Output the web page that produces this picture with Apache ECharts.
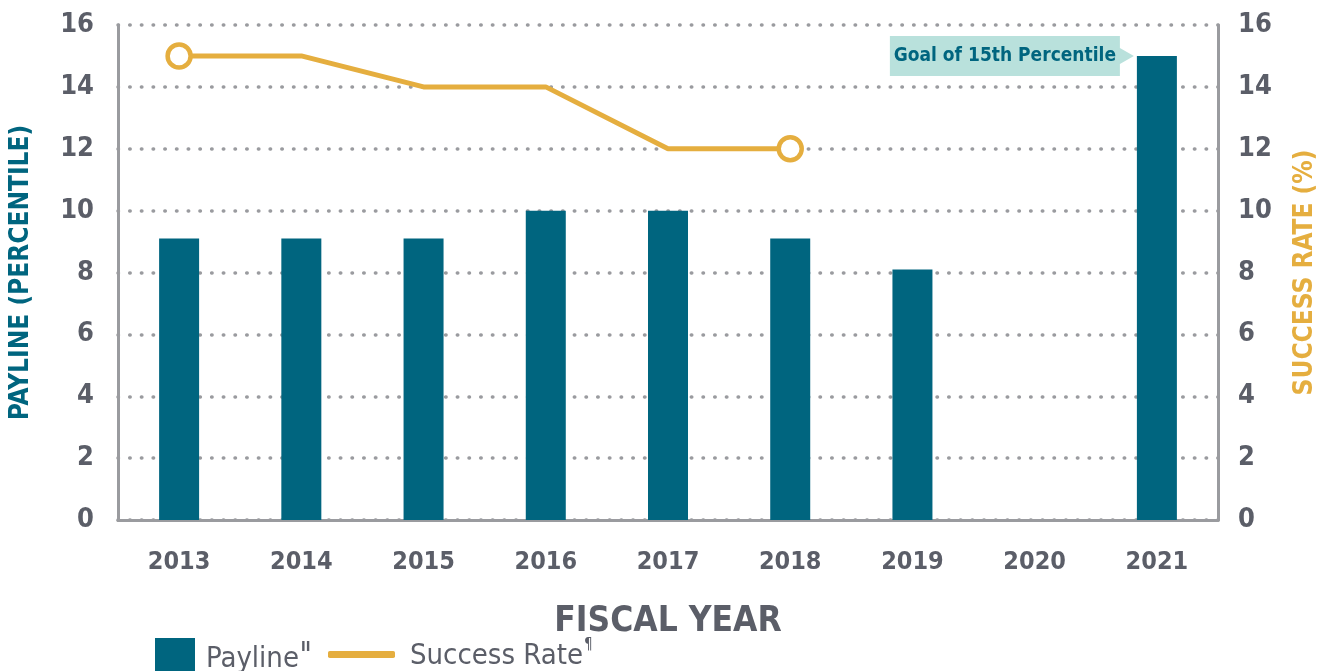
<!DOCTYPE html>
<html>
<head>
<meta charset="utf-8">
<script src="https://cdn.jsdelivr.net/npm/echarts@6/dist/echarts.min.js"></script>
<style>
  html, body { margin: 0; padding: 0; background: #fff; }
  #chart { width: 1333px; height: 671px; }
</style>
</head>
<body>
<div id="chart"></div>
<script>
// ===== data =====
const years = ['2013', '2014', '2015', '2016', '2017', '2018', '2019', '2020', '2021']
const payline = [9.1, 9.1, 9.1, 10, 10, 9.1, 8.1, null, 15]
const successRate = [15, 15, 14, 14, 12, 12, null, null, null]
const yTicks = [0, 2, 4, 6, 8, 10, 12, 14, 16]

const TEAL = '#00657f'
const GOLD = '#e5ae3f'
const GREY = '#5b5e68'
const AXIS = '#9a9b9f'
const FONT = "'Liberation Sans Narrow', 'DejaVu Sans Condensed', 'Roboto', sans-serif"

// only the first and last point of the success line get a ring
const lastRate = successRate.reduce((acc, v, i) => (v != null ? i : acc), -1)
const rateData = successRate.map((v, i) =>
    (i === 0 || i === lastRate)
        ? { value: v, symbol: 'circle', symbolSize: 23, itemStyle: { color: '#fff', borderColor: GOLD, borderWidth: 4.5 } }
        : v)

const chart = echarts.init(document.getElementById('chart'))

const yAxisBase = {
    type: 'value',
    min: yTicks[0],
    max: yTicks[yTicks.length - 1],
    interval: 2,
    nameLocation: 'middle',
    nameRotate: 90,
    axisLine: { show: true, lineStyle: { color: AXIS, width: 3 } },
    axisTick: { show: false },
    axisLabel: { color: GREY, fontSize: 27, fontWeight: 'bold', fontFamily: FONT }
}

chart.setOption({
    textStyle: { fontFamily: FONT },
    animation: false,
    grid: { left: 116, right: 115, top: 25, bottom: 151 },
    legend: [
        {
            data: ['Payline'],
            left: 150, top: 633,
            itemWidth: 40, itemHeight: 38, itemGap: 10,
            icon: 'rect',
            formatter: () => '{t|Payline}{s|II}',
            textStyle: {
                rich: {
                    t: { color: GREY, fontSize: 29, fontFamily: FONT, padding: [4, 0, 0, 6] },
                    s: { color: GREY, fontSize: 14, fontFamily: FONT, fontWeight: 'bold', verticalAlign: 'top', padding: [0, 0, 4, 2] }
                }
            }
        },
        {
            data: [{ name: 'Success Rate', icon: 'roundRect', itemStyle: { color: GOLD, borderWidth: 0 } }],
            left: 323, top: 633,
            itemWidth: 67, itemHeight: 7,
            formatter: () => '{t|Success Rate}{s|¶}',
            textStyle: {
                rich: {
                    t: { color: GREY, fontSize: 29, fontFamily: FONT, padding: [4, 0, 0, 10] },
                    s: { color: GREY, fontSize: 15, fontFamily: FONT, verticalAlign: 'top', padding: [0, 0, 4, 1] }
                }
            }
        }
    ],
    xAxis: {
        type: 'category',
        data: years,
        name: 'FISCAL YEAR',
        nameLocation: 'middle',
        nameGap: 84,
        nameTextStyle: { color: GREY, fontSize: 35, fontWeight: 'bold', fontFamily: FONT },
        axisLine: { lineStyle: { color: AXIS, width: 3 } },
        axisTick: { show: false },
        axisLabel: { color: GREY, fontSize: 25, fontWeight: 'bold', fontFamily: FONT, margin: 30 }
    },
    yAxis: [
        {
            ...yAxisBase,
            position: 'left',
            name: 'PAYLINE (PERCENTILE)',
            nameGap: 84,
            nameTextStyle: { color: TEAL, fontSize: 26, fontWeight: 'bold', fontFamily: FONT },
            axisLabel: { ...yAxisBase.axisLabel, margin: 24 },
            splitLine: { show: true, lineStyle: { color: AXIS, width: 3.5, type: [0.5, 11.2], cap: 'round' } }
        },
        {
            ...yAxisBase,
            position: 'right',
            name: 'SUCCESS RATE (%)',
            nameGap: 74,
            nameTextStyle: { color: GOLD, fontSize: 26, fontWeight: 'bold', fontFamily: FONT },
            axisLabel: { ...yAxisBase.axisLabel, margin: 20 },
            splitLine: { show: false }
        }
    ],
    series: [
        {
            name: 'Payline',
            type: 'bar',
            yAxisIndex: 0,
            barWidth: 40,
            itemStyle: { color: TEAL },
            data: payline,
            markPoint: {
                silent: true,
                symbol: 'path://M0,0 L230,0 L230,12 L244,20 L230,28 L230,40 L0,40 Z',
                symbolSize: [244, 40],
                symbolOffset: [-145, 0],
                itemStyle: { color: '#b9e1dc' },
                label: {
                    show: true,
                    offset: [-7, 0],
                    color: TEAL,
                    fontSize: 19,
                    fontWeight: 'bold',
                    fontFamily: FONT,
                    formatter: 'Goal of 15th Percentile'
                },
                data: [{ coord: ['2021', 15] }]
            }
        },
        {
            name: 'Success Rate',
            type: 'line',
            yAxisIndex: 1,
            symbol: 'none',
            lineStyle: { color: GOLD, width: 5 },
            itemStyle: { color: GOLD },
            data: rateData
        }
    ]
})

window.addEventListener('resize', () => chart.resize())
</script>
</body>
</html>
